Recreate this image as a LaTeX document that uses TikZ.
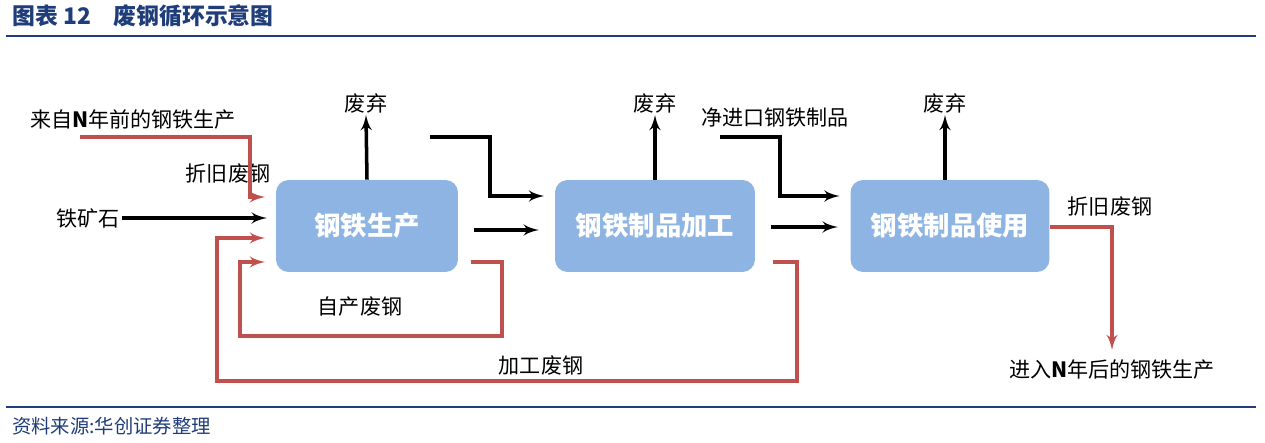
\documentclass[tikz,border=0pt]{standalone}
\usepackage{fontspec}
\setmainfont{Noto Sans CJK SC}
\usetikzlibrary{arrows,positioning}
\definecolor{boxblue}{HTML}{8DB4E2}
\definecolor{loopred}{HTML}{C0504D}
\definecolor{headblue}{HTML}{1F3D7A}
\begin{document}
\begin{tikzpicture}[>=latex', x=0.02cm, y=-0.02cm]
        \tikzset{block/.style={fill=boxblue,
                shape=rectangle,
                align=center,
                rounded corners=0.25cm,
                text=white,
                font=\bfseries\fontsize{15}{18}\selectfont,
                minimum height=1.84cm
            },
            flow/.style={line width=2pt, ->},
            scrap/.style={draw=loopred, line width=2pt, ->},
            lbl/.style={font=\fontsize{12}{14}\selectfont, inner sep=1pt},
        }
\useasboundingbox (0,0) rectangle (1265,443);
% header and footer
\node [anchor=west, text=headblue, font=\bfseries\fontsize{13}{15}\selectfont] (title) at (6,16) {图表 12\quad 废钢循环示意图};
\draw [headblue, line width=1.4pt] (6,36) -- (1256,36);
\draw [headblue, line width=1.4pt] (6,407) -- (1256,407);
\node [anchor=west, text=headblue, font=\itshape\fontsize{11}{13}\selectfont] (src) at (6,426) {资料来源:华创证券整理};
% blocks
\node [block, minimum width=3.64cm] (prod) at (367,226) {钢铁生产};
\node [block, minimum width=4cm] (proc) at (655,226) {钢铁制品加工};
\node [block, minimum width=3.98cm] (use) at (950,226) {钢铁制品使用};
% labels
\node [lbl] (ore) at (88,218) {铁矿石};
\node [lbl] (old) at (133,120) {来自\textbf{N}年前的钢铁生产};
\node [lbl] (dep1) at (228,174) {折旧废钢};
\node [lbl] (waste1) at (366,103) {废弃};
\node [lbl] (waste2) at (655,103) {废弃};
\node [lbl] (waste3) at (945,103) {废弃};
\node [lbl] (import) at (775,117) {净进口钢铁制品};
\node [lbl] (dep2) at (1110,207) {折旧废钢};
\node [lbl] (future) at (1112,370) {进入\textbf{N}年后的钢铁生产};
\node [lbl] (own) at (360,307) {自产废钢};
\node [lbl] (work) at (541,366) {加工废钢};
\coordinate (cut) at (430,137);
\coordinate (imp) at (720,137);
\coordinate (oldend) at (80,137);
%% paths
\draw[flow] (ore.east) -- ([xshift=-5]prod.west |- ore.east);
\draw[flow] (prod.north) -- (waste1.south);
\draw[flow] (proc.north) -- (waste2.south);
\draw[flow] (use.north -| waste3) -- (waste3.south);
\draw[flow] (cut) -- (490,137) -- (490,196) -- ([xshift=-6]proc.west |- 0,196);
\draw[flow] (imp) -- (780,137) -- (780,196) -- ([xshift=-6]use.west |- 0,196);
\draw[flow] ([xshift=9]prod.east |- 0,230) -- ([xshift=-9]proc.west |- 0,230);
\draw[flow] ([xshift=9]proc.east |- 0,227) -- ([xshift=-7]use.west |- 0,227);
\draw[scrap] (oldend) -- (250,137) -- (250,197) -- ([xshift=-6]prod.west |- 0,197);
\draw[scrap] (use.east |- 0,227) -- (1112,227) -- (1112,350);
\draw[scrap] ([xshift=7]prod.east |- 0,262) -- (502,262) -- (502,336) -- (240,336) -- (240,262) -- ([xshift=-6]prod.west |- 0,262);
\draw[scrap] ([xshift=10]proc.east |- 0,262) -- (797,262) -- (797,381) -- (217,381) -- (217,238) -- ([xshift=-6]prod.west |- 0,238);
\end{tikzpicture}
\end{document}
